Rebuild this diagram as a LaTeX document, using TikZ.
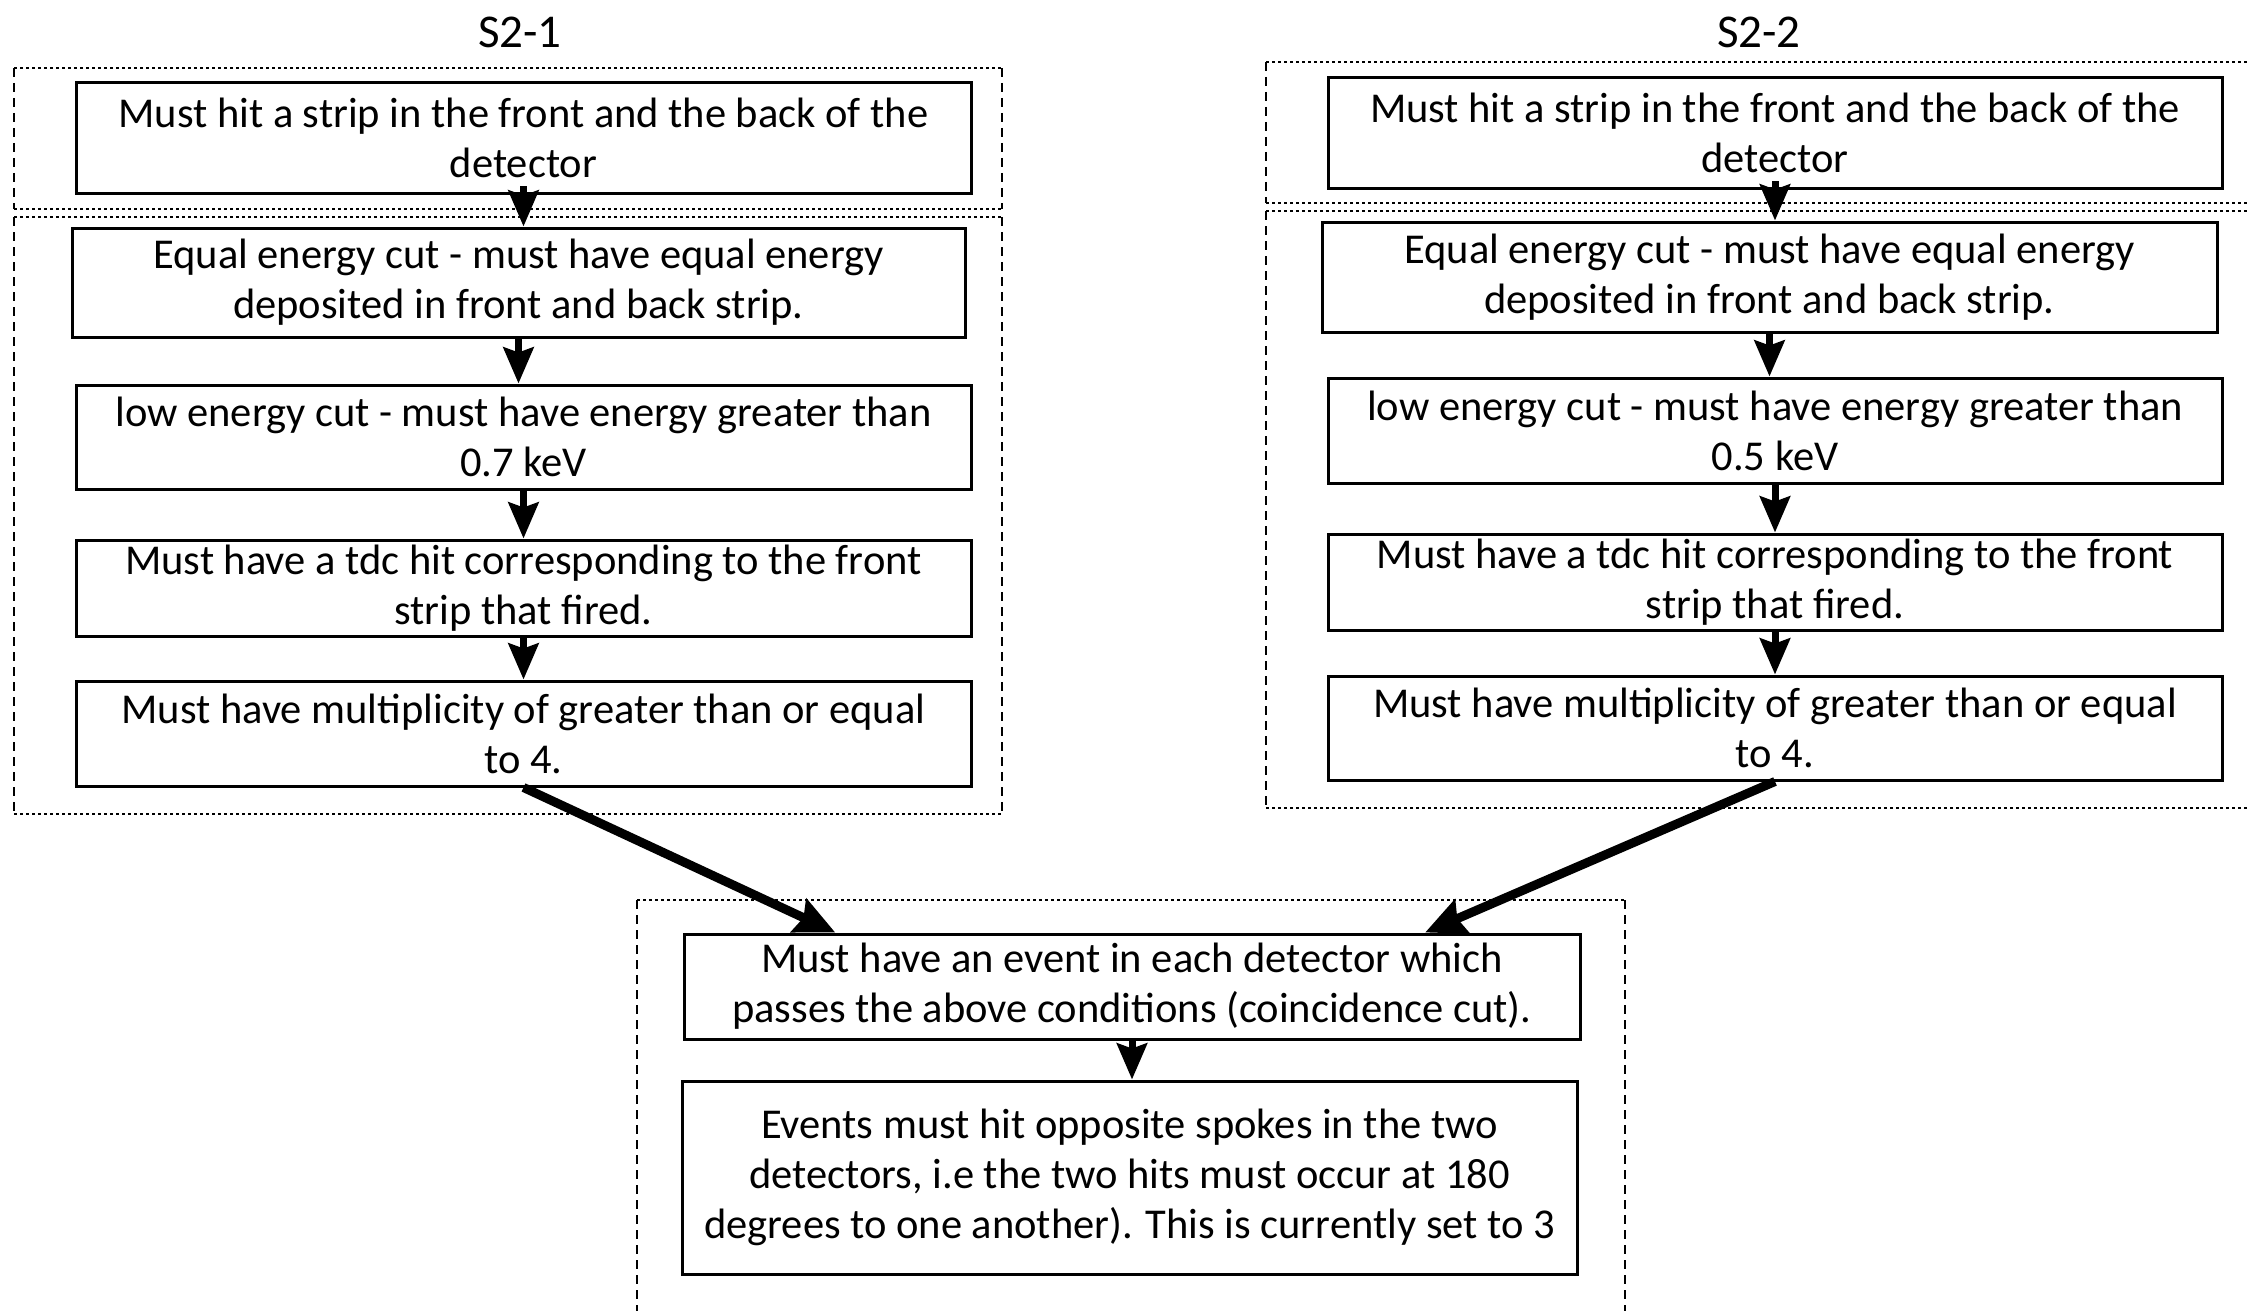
\documentclass[tikz,border=0pt]{standalone}
\usepackage{fontspec}
\setmainfont{Carlito}
\usetikzlibrary{arrows.meta,calc}
\begin{document}
\begin{tikzpicture}[x=1pt,y=-1pt,
  box/.style={draw, line width=3pt, inner sep=0pt, align=center, font=\fontsize{42.5}{50}\selectfont},
  ttl/.style={inner sep=0pt, font=\fontsize{47}{56}\selectfont},
  arr/.style={line width=7pt, -{Stealth[length=36pt,width=30pt,inset=5pt]}},
  darr/.style={line width=9pt, -{Stealth[length=40pt,width=36pt,inset=5pt]}},
  hdot/.style={line width=2.5pt, dash pattern=on 3pt off 3pt},
  vdash/.style={line width=2.5pt, dash pattern=on 9pt off 6pt}]
\useasboundingbox (0,0) rectangle (2247,1311);

% titles
\node[ttl] (T1) at (520,32) {S2-1};
\node[ttl] (T2) at (1759,32) {S2-2};

% dotted group frames, left
\draw[hdot] (14,68) -- (1002,68);
\draw[hdot] (14,209) -- (1002,209);
\draw[vdash] (14,68) -- (14,209);
\draw[vdash] (1002,68) -- (1002,209);
\draw[hdot] (14,217) -- (1002,217);
\draw[hdot] (14,814) -- (1002,814);
\draw[vdash] (14,217) -- (14,814);
\draw[vdash] (1002,217) -- (1002,814);

% dotted group frames, right (open at the right edge)
\draw[hdot] (1266,62) -- (2247,62);
\draw[hdot] (1266,203) -- (2247,203);
\draw[vdash] (1266,62) -- (1266,203);
\draw[hdot] (1266,211) -- (2247,211);
\draw[hdot] (1266,808) -- (2247,808);
\draw[vdash] (1266,211) -- (1266,808);

% dotted frame, bottom (open at the bottom)
\draw[hdot] (637,900) -- (1625,900);
\draw[vdash] (637,900) -- (637,1311);
\draw[vdash] (1625,900) -- (1625,1311);

% left column
\node[box, minimum width=895pt, minimum height=110pt] (L1) at (523.5,138)
  {Must hit a strip in the front and the back of the\\detector};
\node[box, minimum width=893pt, minimum height=109pt] (L2) at (518.5,282.5)
  {Equal energy cut - must have equal energy\\deposited in front and back strip.};
\node[box, minimum width=895pt, minimum height=104pt] (L3) at (523.5,437)
  {low energy cut - must have energy greater than\\0.7 keV};
\node[box, minimum width=895pt, minimum height=96pt] (L4) at (523.5,588)
  {Must have a tdc hit corresponding to the front\\strip that fired.};
\node[box, minimum width=895pt, minimum height=105pt] (L5) at (523.5,733.5)
  {Must have multiplicity of greater than or equal\\to 4.};

% right column
\node[box, minimum width=894pt, minimum height=110pt] (R1) at (1775,133)
  {Must hit a strip in the front and the back of the\\detector};
\node[box, minimum width=895pt, minimum height=110pt] (R2) at (1769.5,277)
  {Equal energy cut - must have equal energy\\deposited in front and back strip.};
\node[box, minimum width=894pt, minimum height=105pt] (R3) at (1775,430.5)
  {low energy cut - must have energy greater than\\0.5 keV};
\node[box, minimum width=894pt, minimum height=96pt] (R4) at (1775,582)
  {Must have a tdc hit corresponding to the front\\strip that fired.};
\node[box, minimum width=894pt, minimum height=104pt] (R5) at (1775,728)
  {Must have multiplicity of greater than or equal\\to 4.};

% bottom
\node[box, minimum width=896pt, minimum height=105pt] (M1) at (1132,986.5)
  {Must have an event in each detector which\\passes the above conditions (coincidence cut).};
\node[box, minimum width=895pt, minimum height=193pt] (M2) at (1129.5,1177.5)
  {Events must hit opposite spokes in the two\\detectors, i.e the two hits must occur at 180\\degrees to one another). This is currently set to 3};

% arrows
\draw[arr] ([yshift=8pt]L1.south) -- (L1.south |- L2.north);
\draw[arr] (L2.south) -- (L2.south |- L3.north);
\draw[arr] (L3.south) -- (L3.south |- L4.north);
\draw[arr] (L4.south) -- (L4.south |- L5.north);
\draw[arr] ([yshift=8pt]R1.south) -- (R1.south |- R2.north);
\draw[arr] (R2.south) -- (R2.south |- R3.north);
\draw[arr] (R3.south) -- (R3.south |- R4.north);
\draw[arr] (R4.south) -- (R4.south |- R5.north);
\draw[arr] (M1.south) -- (M1.south |- M2.north);
\draw[darr] (L5.south) -- ($(M1.north west)!0.17!(M1.north east)$);
\draw[darr] (R5.south) -- ($(M1.north west)!0.826!(M1.north east)$);
\end{tikzpicture}
\end{document}
